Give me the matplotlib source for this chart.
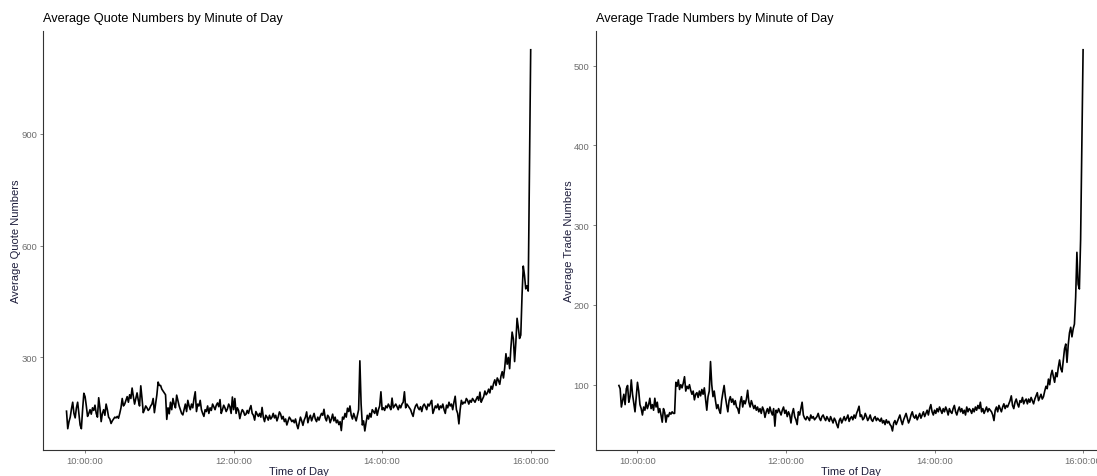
import numpy as np
import pandas as pd
import matplotlib
matplotlib.use("Agg")
import matplotlib.pyplot as plt
import matplotlib.dates as mdates

plt.rcParams['font.family'] = ['Liberation Sans', 'DejaVu Sans']

# minute-of-day axis, 09:45 to 16:00
start_time = "2020-01-02 09:45"
end_time = "2020-01-02 16:00"

quote_avg = [
    156, 109, 128, 140, 162, 180, 150, 138, 165, 180, 150, 119, 109, 160, 204,
    195, 170, 142, 150, 160, 148, 165, 158, 172, 150, 140, 192, 165, 128, 150,
    160, 145, 175, 160, 140, 135, 123, 130, 135, 140, 138, 142, 137, 150, 165,
    190, 170, 175, 185, 195, 180, 200, 190, 218, 195, 175, 190, 205, 185, 170,
    224, 190, 152, 160, 170, 165, 158, 162, 170, 175, 190, 152, 175, 200, 234,
    225, 225, 215, 210, 205, 200, 134, 165, 149, 180, 160, 190, 175, 165, 199,
    185, 170, 160, 150, 146, 160, 175, 155, 185, 170, 160, 175, 165, 190, 208,
    155, 175, 170, 185, 160, 150, 142, 160, 155, 170, 150, 165, 158, 175, 168,
    160, 172, 178, 168, 187, 150, 160, 172, 165, 155, 162, 175, 168, 150, 194,
    160, 190, 150, 165, 158, 136, 150, 160, 155, 145, 148, 158, 150, 162, 171,
    150, 145, 132, 155, 148, 142, 150, 140, 166, 140, 128, 145, 140, 132, 145,
    135, 140, 150, 138, 145, 130, 140, 154, 148, 135, 142, 128, 135, 119, 130,
    140, 135, 128, 132, 125, 135, 120, 109, 125, 140, 130, 118, 132, 140, 154,
    125, 138, 145, 130, 140, 150, 135, 128, 140, 132, 142, 150, 145, 161, 138,
    130, 145, 140, 125, 135, 148, 130, 140, 125, 132, 120, 128, 104, 140, 135,
    150, 140, 164, 155, 170, 145, 135, 150, 140, 130, 145, 160, 291, 175, 119,
    130, 103, 125, 145, 135, 150, 140, 160, 155, 150, 165, 145, 160, 170, 208,
    160, 165, 158, 170, 165, 175, 168, 160, 191, 165, 170, 175, 168, 160, 172,
    165, 175, 180, 208, 165, 175, 170, 165, 160, 150, 142, 160, 170, 175, 165,
    160, 168, 155, 170, 175, 168, 160, 175, 170, 178, 185, 150, 160, 170, 165,
    175, 160, 170, 165, 175, 160, 150, 172, 165, 180, 170, 175, 160, 180, 196,
    160, 150, 122, 160, 185, 175, 180, 178, 190, 185, 175, 185, 180, 190, 185,
    180, 188, 195, 185, 207, 180, 188, 195, 210, 200, 205, 215, 205, 223, 215,
    230, 240, 225, 245, 238, 228, 250, 262, 245, 272, 310, 282, 300, 270, 326,
    368, 350, 289, 340, 405, 380, 351, 360, 466, 545, 520, 484, 492, 478, 800,
    1125,
]

trade_avg = [
    99, 95, 72, 80, 88, 75, 95, 99, 78, 85, 106, 88, 77, 66, 85,
    103, 92, 75, 70, 62, 72, 68, 78, 70, 75, 83, 70, 75, 68, 83,
    72, 78, 65, 70, 62, 53, 70, 65, 53, 62, 60, 65, 63, 66, 64,
    64, 103, 98, 106, 94, 100, 96, 102, 110, 92, 98, 95, 100, 93, 88,
    92, 81, 88, 90, 84, 92, 86, 94, 88, 96, 82, 68, 85, 92, 129,
    100, 85, 92, 80, 70, 75, 68, 64, 80, 90, 99, 85, 75, 66, 80,
    85, 78, 82, 75, 80, 72, 70, 64, 78, 85, 72, 80, 76, 82, 93,
    78, 72, 80, 75, 70, 74, 68, 72, 66, 70, 64, 72, 68, 59, 66,
    70, 64, 72, 66, 62, 70, 48, 68, 65, 70, 66, 62, 68, 72, 64,
    68, 60, 66, 62, 52, 64, 70, 60, 56, 50, 66, 62, 70, 78, 62,
    58, 56, 60, 58, 55, 62, 58, 60, 56, 58, 60, 64, 58, 55, 60,
    62, 58, 55, 60, 57, 54, 60, 56, 52, 58, 55, 50, 46, 55, 58,
    52, 56, 60, 55, 58, 62, 54, 58, 60, 56, 62, 58, 64, 68, 73,
    60, 62, 56, 58, 64, 60, 55, 58, 62, 56, 54, 58, 60, 55, 58,
    56, 54, 58, 52, 55, 50, 56, 52, 54, 50, 48, 42, 52, 55, 50,
    54, 58, 62, 55, 50, 56, 60, 64, 58, 52, 56, 62, 66, 60, 58,
    62, 56, 60, 64, 58, 62, 66, 60, 64, 68, 62, 70, 75, 66, 62,
    68, 64, 70, 66, 72, 68, 64, 70, 66, 72, 68, 62, 70, 66, 64,
    70, 74, 66, 62, 68, 72, 66, 70, 64, 68, 62, 72, 66, 70, 68,
    64, 70, 66, 72, 68, 74, 70, 78, 66, 70, 64, 68, 72, 66, 70,
    68, 66, 62, 55, 68, 72, 66, 74, 70, 66, 72, 76, 70, 74, 72,
    76, 80, 86, 74, 70, 78, 82, 76, 72, 80, 78, 84, 76, 80, 82,
    76, 82, 78, 84, 80, 76, 82, 86, 90, 80, 84, 88, 82, 85, 92,
    98, 95, 107, 100, 112, 118, 110, 103, 115, 110, 122, 131, 120, 116, 130,
    145, 151, 128, 150, 165, 172, 160, 170, 176, 210, 266, 226, 220, 282, 400,
    520,
]

quote_ticks = [300, 600, 900]
trade_ticks = [100, 200, 300, 400, 500]
x_tick_times = ["10:00", "12:00", "14:00", "16:00"]

panels = [
    ("Average Quote Numbers by Minute of Day", "Average Quote Numbers", quote_avg, quote_ticks),
    ("Average Trade Numbers by Minute of Day", "Average Trade Numbers", trade_avg, trade_ticks),
]

minutes = pd.date_range(start_time, end_time, freq="min")
day = start_time.split()[0]
xticks = [pd.Timestamp(f"{day} {t}") for t in x_tick_times]

W, H = 1097, 477
fig = plt.figure(figsize=(W / 100, H / 100), dpi=100)

ax_left_px = [43.3, 595.7]
ax_w_px = 510.6
ax_bottom_px = 451.0
ax_top_px = 31.7

axis_grey = "#333333"
tick_grey = "#6e6e6e"

for (title, ylabel, values, yt), x0 in zip(panels, ax_left_px):
    ax = fig.add_axes([x0 / W, 1 - ax_bottom_px / H, ax_w_px / W,
                       (ax_bottom_px - ax_top_px) / H])
    ax.plot(minutes, values, color="black", linewidth=1.2)
    ax.margins(x=0.05, y=0.05)
    ax.set_yticks(yt)
    ax.set_xticks(xticks)
    ax.xaxis.set_major_formatter(mdates.DateFormatter("%H:%M:%S"))
    for side in ("top", "right"):
        ax.spines[side].set_visible(False)
    for side in ("left", "bottom"):
        ax.spines[side].set_color(axis_grey)
        ax.spines[side].set_linewidth(0.8)
    ax.tick_params(axis="both", length=2.5, width=0.6, color=tick_grey,
                   labelcolor=tick_grey, labelsize=6.8, pad=2)
    ax.set_title(title, loc="left", fontsize=9.2, color="black", pad=7)
    ax.set_xlabel("Time of Day", fontsize=8.0, color="#1e1e3c", labelpad=0.5)
    ax.set_ylabel(ylabel, fontsize=8.0, color="#1e1e3c", labelpad=0)

fig.savefig("out.png", dpi=100)
